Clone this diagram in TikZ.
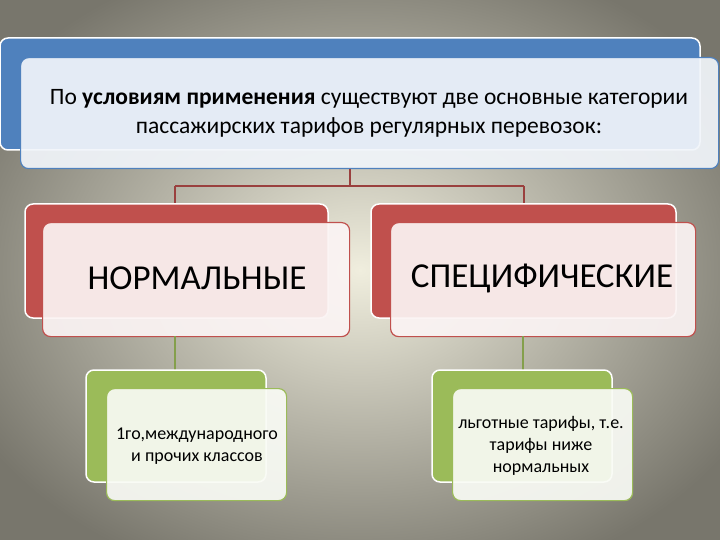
\documentclass[tikz,border=0pt]{standalone}
\usepackage{fontspec}
\setmainfont{Carlito}
\usetikzlibrary{shadings}
\definecolor{bl}{RGB}{79,129,189}
\definecolor{rd}{RGB}{192,80,77}
\definecolor{gr}{RGB}{155,187,89}
\definecolor{bgc}{RGB}{240,238,222}
\definecolor{bge}{RGB}{120,118,108}
\tikzset{
 back/.style={rounded corners=8pt,draw=white,line width=1.5pt},
 front/.style={rounded corners=8pt,line width=1.2pt,fill=white,fill opacity=0.92,text opacity=1},
 conn/.style={line width=1.2pt}
}
\begin{document}
\begin{tikzpicture}[x=1pt,y=-1pt]
\useasboundingbox (0,0) rectangle (720,540);
\shade[inner color=bgc,outer color=bge] (-80,-60) rectangle (800,600);
% top
\draw[back,fill=bl] (0,38) rectangle (700,150);
\node[front,draw=bl,fill=bl!8,minimum width=698pt,minimum height=111pt,anchor=north west] (top) at (20,57) {};
\node[align=center,font=\fontsize{23.5}{29}\selectfont] (tt) at (369,113) {По \textbf{условиям применения} существуют две основные категории\\пассажирских тарифов регулярных перевозок:};
% connectors
\coordinate (j) at (350,186);
\coordinate (jl) at (175,186);
\coordinate (jr) at (524,186);
\draw[conn,rd!80!black] (top.south -| j) -- (j) (jl) -- (jr) (jl) -- (175,204) (jr) -- (524,204);
% red boxes
\draw[back,fill=rd] (25,204) rectangle (328,318);
\node[front,draw=rd,fill=rd!6,minimum width=307pt,minimum height=114pt,anchor=north west] (n1) at (42,222) {};
\node[font=\fontsize{35}{40}\selectfont] at (197,278) {НОРМАЛЬНЫЕ};
\draw[back,fill=rd] (371,204) rectangle (676,318);
\node[front,draw=rd,fill=rd!6,minimum width=305pt,minimum height=114pt,anchor=north west] (n2) at (390,222) {};
\node[font=\fontsize{35}{40}\selectfont] at (542,278) {СПЕЦИФИЧЕСКИЕ};
% green connectors
\draw[conn,gr!85!black] (175,336) -- (175,370);
\draw[conn,gr!85!black] (523,336) -- (523,370);
% green boxes
\draw[back,fill=gr] (86,370) rectangle (266,482);
\node[front,draw=gr,fill=gr!6,minimum width=180pt,minimum height=112pt,anchor=north west] (g1) at (106,388) {};
\node[align=center,font=\fontsize{18}{22}\selectfont] at (197,446) {1го,международного\\и прочих классов};
\draw[back,fill=gr] (432,370) rectangle (612,482);
\node[front,draw=gr,fill=gr!6,minimum width=180pt,minimum height=112pt,anchor=north west] (g2) at (452,388) {};
\node[align=center,font=\fontsize{18}{22}\selectfont] at (541,446) {льготные тарифы, т.е.\\тарифы ниже\\нормальных};
\end{tikzpicture}
\end{document}
